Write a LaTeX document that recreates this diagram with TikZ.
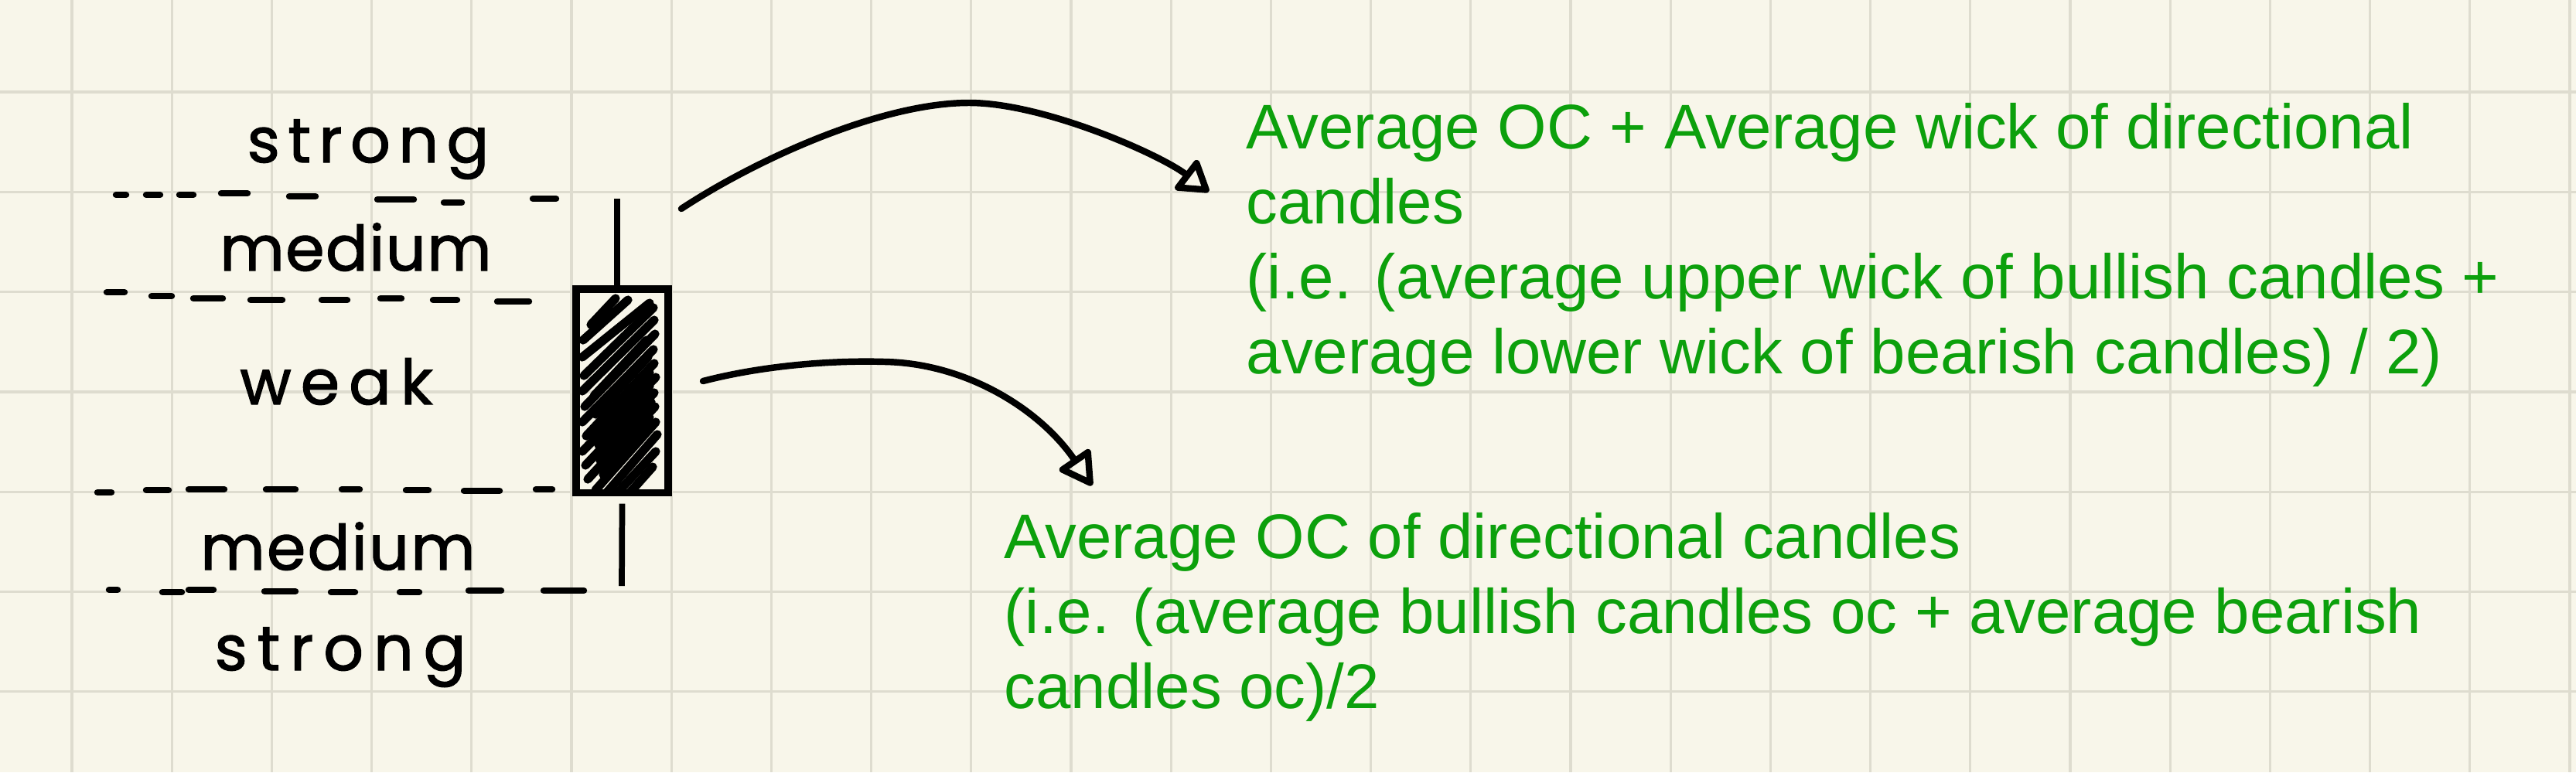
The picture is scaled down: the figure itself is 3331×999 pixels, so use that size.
\documentclass[tikz,border=0pt]{standalone}
\usepackage{fontspec}
\setmainfont{Liberation Sans}
\newfontfamily\handfont[FakeBold=1.6]{Poppins}
\usetikzlibrary{arrows.meta,calc}
\definecolor{paper}{RGB}{248,246,234}
\definecolor{gridc}{RGB}{222,220,207}
\definecolor{notegreen}{RGB}{12,160,12}
\begin{document}
\begin{tikzpicture}[x=0.01cm,y=-0.01cm,
  gridline/.style={gridc, line width=0.9pt},
  dashseg/.style={line width=2.4pt, line cap=round},
  wick/.style={line width=2.2pt},
  bodybox/.style={draw, line width=2.6pt, minimum width=1.19cm, minimum height=2.63cm, inner sep=0pt},
  hatch/.style={line width=3.2pt, line cap=round},
  hand/.style={font=\handfont\fontsize{23pt}{27pt}\selectfont, anchor=base, inner sep=0pt},
  note/.style={text=notegreen, font=\fontsize{23.2pt}{27.6pt}\selectfont, align=left, anchor=north west, inner sep=0pt},
  link/.style={line width=2.4pt, line cap=round}
]
\fill[paper] (0,0) rectangle (3331,999);
\useasboundingbox (0,0) rectangle (3331,999);
\foreach \k in {0,...,25} \draw[gridline] ({93+129.2*\k},0) -- ({93+129.2*\k},999);
\foreach \k in {0,...,6} \draw[gridline] (0,{119+129.3*\k}) -- (3331,{119+129.3*\k});

% labels
\node[hand] (s1) at (476,210) {\addfontfeature{LetterSpace=13}strong};
\node[hand] (m1) at (460,350) {\addfontfeature{LetterSpace=2}medium};
\node[hand] (wk) at (435,523) {\addfontfeature{LetterSpace=15}weak};
\node[hand] (m2) at (437,737) {\addfontfeature{LetterSpace=3}medium};
\node[hand] (s2) at (440,867) {\addfontfeature{LetterSpace=16}strong};

% dashed level lines
\foreach \a/\b/\y in {150/163/252,189/207/252,232/250/252,286/320/250,374/408/254,488/535/258,574/597/262,689/719/257}
  \draw[dashseg] (\a,\y) -- (\b,\y);
\foreach \a/\b/\y in {138/161/378,196/222/383,250/288/386,324/365/388,416/449/388,492/519/386,560/591/388,643/684/390}
  \draw[dashseg] (\a,\y) -- (\b,\y);
\foreach \a/\b/\y in {126/144/637,189/218/634,244/290/633,344/382/633,442/465/633,525/554/634,600/646/635,693/714/633}
  \draw[dashseg] (\a,\y) -- (\b,\y);
\foreach \a/\b/\y in {141/152/763,210/235/766,244/276/763,342/382/765,428/459/766,517/542/766,606/648/764,703/755/764}
  \draw[dashseg] (\a,\y) -- (\b,\y);

% candle
\node[bodybox] (body) at (804.5,505.5) {};
\coordinate (wt) at (798,257);
\coordinate (wb) at (804,758);
\draw[wick] (wt) -- (wt |- body.north);
\draw[wick] ([yshift=-0.1cm]body.south) -- (wb);
\begin{scope}
  \clip (749,378) rectangle (860,633);
  \foreach \xl/\yl/\xr/\yr in {
    764/420/796/386, 754/440/812/388, 753/462/840/392, 755/486/845/398,
    753/506/846/414, 756/526/847/432, 753/546/845/452, 758/564/846/470,
    753/584/848/488, 757/602/846/508, 760/620/847/526, 770/634/848/546,
    782/640/850/562, 796/640/848/584, 812/640/844/604,
    768/512/836/440, 770/536/838/462, 772/556/840/482, 774/576/840/500,
    776/596/842/520, 780/614/840/540}
    \draw[hatch] (\xl,\yl) -- (\xr,\yr);
\end{scope}

% notes
\node[note] (t1) at (1611,132.5) {Average OC + Average wick of directional\\candles\\(i.e. (average upper wick of bullish candles +\\average lower wick of bearish candles) / 2)};
\node[note] (t2) at (1298,662.5) {Average OC of directional candles\\(i.e. (average bullish candles oc + average bearish\\candles oc)/2};

% arrows
\coordinate (a1s) at (881,270);
\coordinate (a1e) at (1563,248);
\coordinate (a2s) at (909,493);
\coordinate (a2e) at (1412,628);
\draw[link, -{Triangle[open,round,length=12.2pt,width=15pt]}] (a1s) .. controls (980,205) and (1140,133) .. (1253,133) .. controls (1350,133) and (1500,200) .. (a1e);
\draw[link, -{Triangle[open,round,length=13.4pt,width=14.8pt]}] (a2s) .. controls (990,472) and (1080,466) .. (1144,468) .. controls (1250,470) and (1345,530) .. (a2e);
\end{tikzpicture}
\end{document}
